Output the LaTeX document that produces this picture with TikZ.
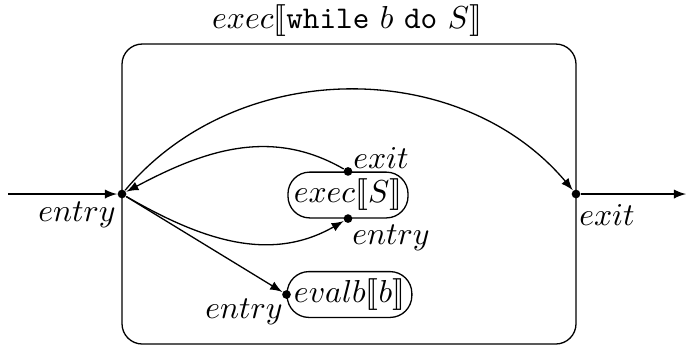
\documentclass[tikz,border=0pt]{standalone}
\usepackage{amsmath}
\usepackage{amssymb}
\usepackage{stmaryrd}
\usepackage{tikz}

\begin{document}
\begin{tikzpicture}[x=0.1212cm, y=0.1212cm, >=latex, line width=0.45pt,
			every node/.style={font=\fontsize{10.9pt}{13pt}\selectfont}]
			\tikzset{dot/.style={circle, fill=black, inner sep=0pt, minimum size=3pt},
				block/.style={draw, rounded corners=7.5pt, inner sep=0pt, minimum height=15.8pt}}
			\useasboundingbox (0,0) rectangle (68.6,-34.7);
			\draw [black, rounded corners=7pt] (12.2,-4.4) rectangle (57.6,-34.4);
			\node (title) at (34.7,-2.05) {$exec\llbracket\texttt{while}\ b\ \texttt{do}\ S\rrbracket$};
			\node [block, minimum width=41.4pt] (execS) at (34.8,-19.5) {$exec\llbracket S\rrbracket$};
			\node [block, minimum width=43pt] (evalB) at (34.95,-29.45) {$evalb\llbracket b\rrbracket$};
			\node [dot] (entry) at (12.2,-19.4) {};
			\node [dot] (exit) at (57.6,-19.4) {};
			\node [dot] (sexit) at (execS.north) {};
			\node [dot] (sentry) at (execS.south) {};
			\node [dot] (bentry) at (evalB.west) {};
			\coordinate (in) at (0.8,-19.4);
			\coordinate (out) at (68.6,-19.4);
			\node (entrylbl) at (7.7,-21.5) {$entry$};
			\node (exitlbl) at (60.7,-21.5) {$exit$};
			\node (sexitlbl) at (38.1,-15.8) {$exit$};
			\node (sentrylbl) at (39.1,-23.8) {$entry$};
			\node (bentrylbl) at (24.4,-31.2) {$entry$};
			\draw [->] (in) -- (entry);
			\draw [->] (exit) -- (out);
			\draw [->] (entry) to [out=50, in=130] (exit);
			\draw [->] (sexit) to [out=150, in=28] (entry);
			\draw [->] (entry) to [out=-30, in=-150] (sentry);
			\draw [->] (entry) -- (bentry);
		\end{tikzpicture}
\end{document}
